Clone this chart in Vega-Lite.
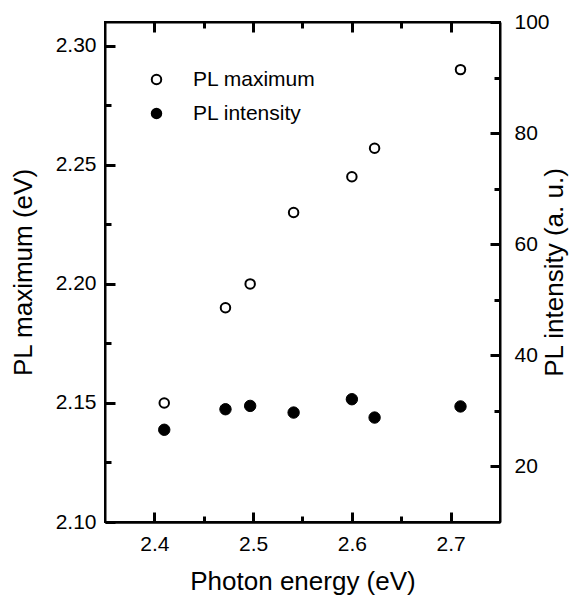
{
  "$schema": "https://vega.github.io/schema/vega-lite/v6.json",
  "width": 395,
  "height": 500,
  "autosize": "none",
  "padding": {"left": 105, "top": 22, "right": 76, "bottom": 79},
  "background": "white",
  "config": {
    "font": "Liberation Sans",
    "view": {"stroke": "black", "strokeWidth": 2},
    "axis": {
      "grid": false,
      "domainColor": "black",
      "domainWidth": 2,
      "tickColor": "black",
      "tickWidth": 3,
      "labelColor": "black",
      "labelFontSize": 21,
      "titleFontSize": 26,
      "titleFontWeight": "normal",
      "titleColor": "black"
    }
  },
  "data": {
    "values": [
      {"energy": 2.41, "pl_max": 2.150, "pl_int": 26.6},
      {"energy": 2.472, "pl_max": 2.190, "pl_int": 30.3},
      {"energy": 2.497, "pl_max": 2.200, "pl_int": 30.9},
      {"energy": 2.541, "pl_max": 2.230, "pl_int": 29.7},
      {"energy": 2.600, "pl_max": 2.245, "pl_int": 32.1},
      {"energy": 2.623, "pl_max": 2.257, "pl_int": 28.8},
      {"energy": 2.710, "pl_max": 2.290, "pl_int": 30.8}
    ]
  },
  "layer": [
    {
      "mark": {"type": "point", "opacity": 0},
      "encoding": {
        "x": {
          "field": "energy", "type": "quantitative",
          "scale": {"domain": [2.35, 2.75], "nice": false, "zero": false},
          "axis": {"orient": "bottom", "title": null, "labels": false, "domain": false,
                   "values": [2.45, 2.55, 2.65], "tickSize": -6, "tickColor": "black", "tickWidth": 3}
        },
        "y": {
          "field": "pl_max", "type": "quantitative",
          "scale": {"domain": [2.10, 2.31], "nice": false, "zero": false},
          "axis": {"orient": "left", "title": null, "labels": false, "domain": false,
                   "values": [2.125, 2.175, 2.225, 2.275], "tickSize": -6, "tickColor": "black", "tickWidth": 3}
        }
      }
    },
    {
      "mark": {"type": "point", "opacity": 0},
      "encoding": {
        "x": {
          "field": "energy", "type": "quantitative",
          "axis": {"orient": "top", "title": null, "labels": false, "domain": false,
                   "values": [2.45, 2.55, 2.65], "tickSize": -6, "tickColor": "black", "tickWidth": 3}
        },
        "y": {
          "field": "pl_int", "type": "quantitative",
          "scale": {"domain": [10, 100], "nice": false, "zero": false},
          "axis": {"orient": "right", "title": null, "labels": false, "domain": false,
                   "values": [30, 50, 70, 90], "tickSize": -6, "tickColor": "black", "tickWidth": 3}
        }
      }
    },
    {
      "mark": {"type": "point", "filled": true, "stroke": "black", "strokeWidth": 2, "size": 90, "opacity": 1},
      "encoding": {
        "x": {
          "field": "energy", "type": "quantitative",
          "axis": {
            "orient": "bottom",
            "title": "Photon energy (eV)",
            "values": [2.4, 2.5, 2.6, 2.7],
            "format": ".1f",
            "tickSize": -10,
            "tickColor": "black",
            "tickWidth": 3,
            "labelPadding": 21,
            "titlePadding": 14,
            "domainWidth": 2.5
          }
        },
        "y": {
          "field": "pl_max", "type": "quantitative",
          "scale": {"domain": [2.10, 2.31], "nice": false, "zero": false},
          "axis": {
            "orient": "left",
            "title": "PL maximum (eV)",
            "values": [2.1, 2.15, 2.2, 2.25, 2.3],
            "format": ".2f",
            "tickSize": -10,
            "tickColor": "black",
            "tickWidth": 3,
            "labelPadding": 19,
            "titlePadding": 19
          }
        },
        "fill": {
          "datum": "PL maximum", "type": "nominal",
          "scale": {"domain": ["PL maximum", "PL intensity"], "range": ["white", "black"]},
          "legend": {
            "title": null,
            "orient": "none",
            "legendX": 41,
            "legendY": 47,
            "symbolType": "circle",
            "symbolSize": 90,
            "symbolStrokeColor": "black",
            "symbolStrokeWidth": 2,
            "labelFontSize": 21,
            "labelColor": "black",
            "labelOffset": 26,
            "rowPadding": 12
          }
        }
      }
    },
    {
      "mark": {"type": "point", "filled": true, "stroke": "black", "strokeWidth": 1, "size": 130, "opacity": 1},
      "encoding": {
        "x": {
          "field": "energy", "type": "quantitative",
          "axis": {"orient": "top", "title": null, "labels": false,
                   "values": [2.4, 2.5, 2.6, 2.7], "tickSize": -10, "tickColor": "black", "tickWidth": 3}
        },
        "y": {
          "field": "pl_int", "type": "quantitative",
          "scale": {"domain": [10, 100], "nice": false, "zero": false},
          "axis": {
            "orient": "right",
            "title": "PL intensity (a. u.)",
            "titleAngle": 270,
            "values": [20, 40, 60, 80, 100],
            "format": "d",
            "tickSize": -10,
            "tickColor": "black",
            "tickWidth": 3,
            "labelPadding": 24,
            "titlePadding": 18
          }
        },
        "fill": {"datum": "PL intensity", "type": "nominal"}
      }
    }
  ],
  "resolve": {"scale": {"y": "independent"}, "axis": {"x": "independent", "y": "independent"}}
}
